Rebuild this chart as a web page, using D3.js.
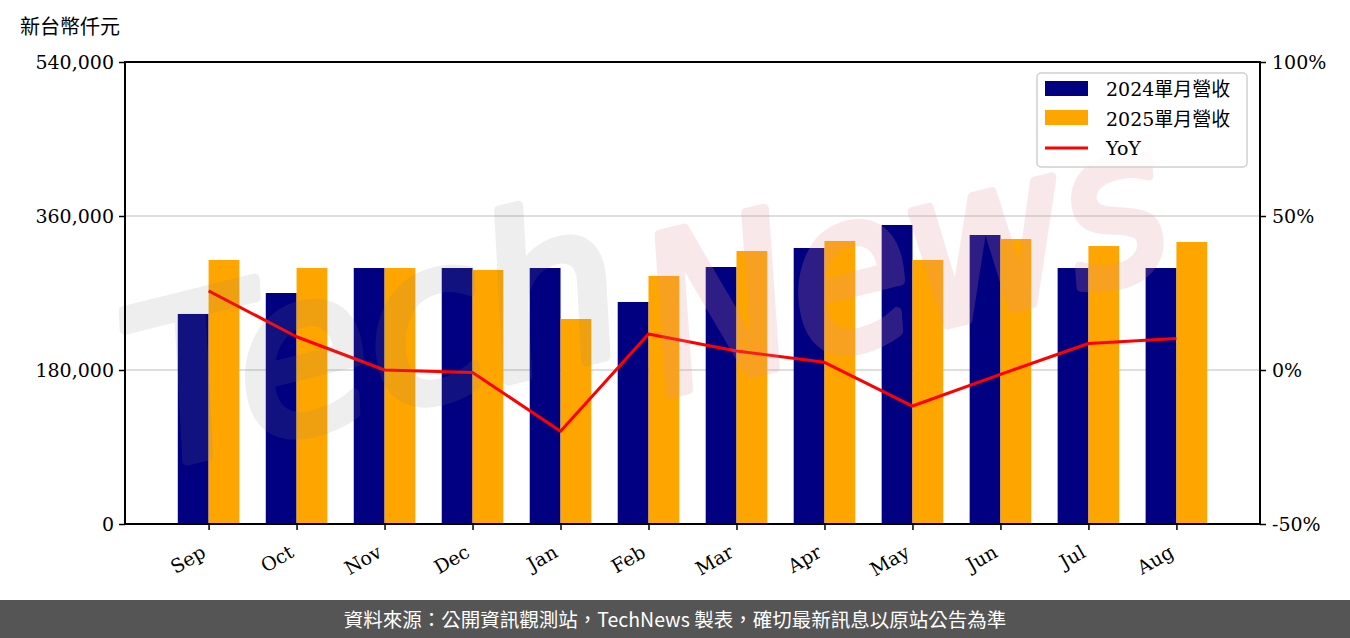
<!DOCTYPE html>
<html><head><meta charset="utf-8">
<script src="https://cdn.jsdelivr.net/npm/d3@7"></script>
<style>
html,body{margin:0;padding:0;background:#fff;}
svg{display:block;}
</style></head>
<body>
<svg id="c" width="1350" height="638"></svg>
<script>
const months = ["Sep","Oct","Nov","Dec","Jan","Feb","Mar","Apr","May","Jun","Jul","Aug"];
const rev2024 = [245500,270000,299200,299200,299200,259500,300400,322600,349500,337800,299200,299200];
const rev2025 = [308600,299200,299200,296900,239600,289900,319100,330800,308600,333100,324900,329600];
const yoy = [25.7,10.8,0.0,-0.8,-19.9,11.7,6.2,2.5,-11.7,-1.4,8.6,10.2];
const leftTicks = [0,180000,360000,540000];
const rightTicks = [-50,0,50,100];
const legendLabels = ["2024單月營收","2025單月營收","YoY"];

const svg = d3.select("#c");
const W=1350,H=638;
const L=125,R=1260,T=62,B=524;
const serif = "'DejaVu Serif','Liberation Serif',serif";
const cjk = "'DejaVu Serif','Noto Sans CJK TC',serif";

const x = d3.scaleLinear().domain([-0.95, 11.95]).range([L,R]);
const y = d3.scaleLinear().domain([0,540000]).range([B,T]);
const y2 = d3.scaleLinear().domain([-50,100]).range([B,T]);
const bw = x(0.35)-x(0);

// grid
svg.append("g").selectAll("line").data(leftTicks.filter(d=>d>0&&d<540000)).join("line")
  .attr("x1",L).attr("x2",R).attr("y1",d=>y(d)).attr("y2",d=>y(d))
  .attr("stroke","#d3d3d3").attr("stroke-width",1.5);

// bars
svg.append("g").selectAll("rect").data(rev2024).join("rect")
  .attr("x",(d,i)=>x(i)-bw).attr("width",bw).attr("y",d=>y(d)).attr("height",d=>B-y(d)).attr("fill","#000080");
svg.append("g").selectAll("rect").data(rev2025).join("rect")
  .attr("x",(d,i)=>x(i)).attr("width",bw).attr("y",d=>y(d)).attr("height",d=>B-y(d)).attr("fill","#FFA500");

// yoy line
svg.append("path").datum(yoy)
  .attr("d",d3.line().x((d,i)=>x(i)).y(d=>y2(d)))
  .attr("fill","none").attr("stroke","#ff0000").attr("stroke-width",3).attr("stroke-linejoin","round");

// watermark (faint, over the plot)
const wm = svg.append("g").attr("pointer-events","none");
wm.append("text").attr("x",150).attr("y",470).attr("transform","rotate(-14,150,470)")
  .attr("font-family","'DejaVu Sans'").attr("font-style","italic")
  .attr("font-size",220).attr("textLength",500).attr("lengthAdjust","spacingAndGlyphs")
  .attr("fill","#808080").attr("stroke","#808080").attr("stroke-width",10).attr("stroke-linejoin","round")
  .attr("opacity",0.13).text("Tech");
wm.append("text").attr("x",665).attr("y",395).attr("transform","rotate(-14,665,395)")
  .attr("font-family","'DejaVu Sans'").attr("font-style","italic")
  .attr("font-size",215).attr("textLength",530).attr("lengthAdjust","spacingAndGlyphs")
  .attr("fill","#e0909a").attr("stroke","#e0909a").attr("stroke-width",10).attr("stroke-linejoin","round")
  .attr("opacity",0.2).text("News");

// axes frame
svg.append("rect").attr("x",L).attr("y",T).attr("width",R-L).attr("height",B-T)
  .attr("fill","none").attr("stroke","#000").attr("stroke-width",2);

// left axis
const gl = svg.append("g").attr("transform",`translate(${L},0)`)
  .call(d3.axisLeft(y).tickValues(leftTicks).tickSize(6).tickPadding(5).tickFormat(d3.format(",")));
// right axis
const gr = svg.append("g").attr("transform",`translate(${R},0)`)
  .call(d3.axisRight(y2).tickValues(rightTicks).tickSize(6).tickPadding(6).tickFormat(d=>d+"%"));
// bottom axis
const gb = svg.append("g").attr("transform",`translate(0,${B})`)
  .call(d3.axisBottom(x).tickValues(d3.range(12)).tickSize(6).tickFormat(i=>months[i]));

[gl,gr,gb].forEach(g=>{
  g.select(".domain").remove();
  g.selectAll(".tick line").attr("stroke","#000").attr("stroke-width",1.5);
  g.selectAll("text").attr("font-family",serif).attr("font-size",19).attr("fill","#000");
});
gb.selectAll(".tick text")
  .attr("text-anchor","end").attr("dy",0).attr("y",0)
  .attr("transform","translate(-2,32) rotate(-30)");

// unit label
svg.append("text").attr("x",20).attr("y",34).attr("font-family","'Noto Sans CJK TC'").attr("font-size",20).attr("fill","#000").text("新台幣仟元");

// legend
const lg = svg.append("g");
lg.append("rect").attr("x",1037).attr("y",73).attr("width",210).attr("height",94).attr("rx",4)
  .attr("fill","#fff").attr("fill-opacity",0.8).attr("stroke","#d0d0d0").attr("stroke-width",1.5);
lg.append("rect").attr("x",1045).attr("y",81).attr("width",43).attr("height",15).attr("fill","#000080");
lg.append("rect").attr("x",1045).attr("y",110).attr("width",43).attr("height",15).attr("fill","#FFA500");
lg.append("line").attr("x1",1045).attr("x2",1088).attr("y1",148).attr("y2",148).attr("stroke","#ff0000").attr("stroke-width",3);
lg.selectAll("text.l").data(legendLabels).join("text").attr("class","l")
  .attr("x",1106).attr("y",(d,i)=>96+i*29.5)
  .attr("font-family",cjk).attr("font-size",19).attr("fill","#000").text(d=>d);

// footer
svg.append("rect").attr("x",0).attr("y",600).attr("width",W).attr("height",38).attr("fill","#555555");
svg.append("text").attr("x",675).attr("y",627).attr("text-anchor","middle")
  .attr("font-family","'Noto Sans CJK TC','Noto Sans'").attr("font-size",19.5).attr("fill","#fff")
  .text("資料來源：公開資訊觀測站，TechNews 製表，確切最新訊息以原站公告為準");
</script>
</body></html>
